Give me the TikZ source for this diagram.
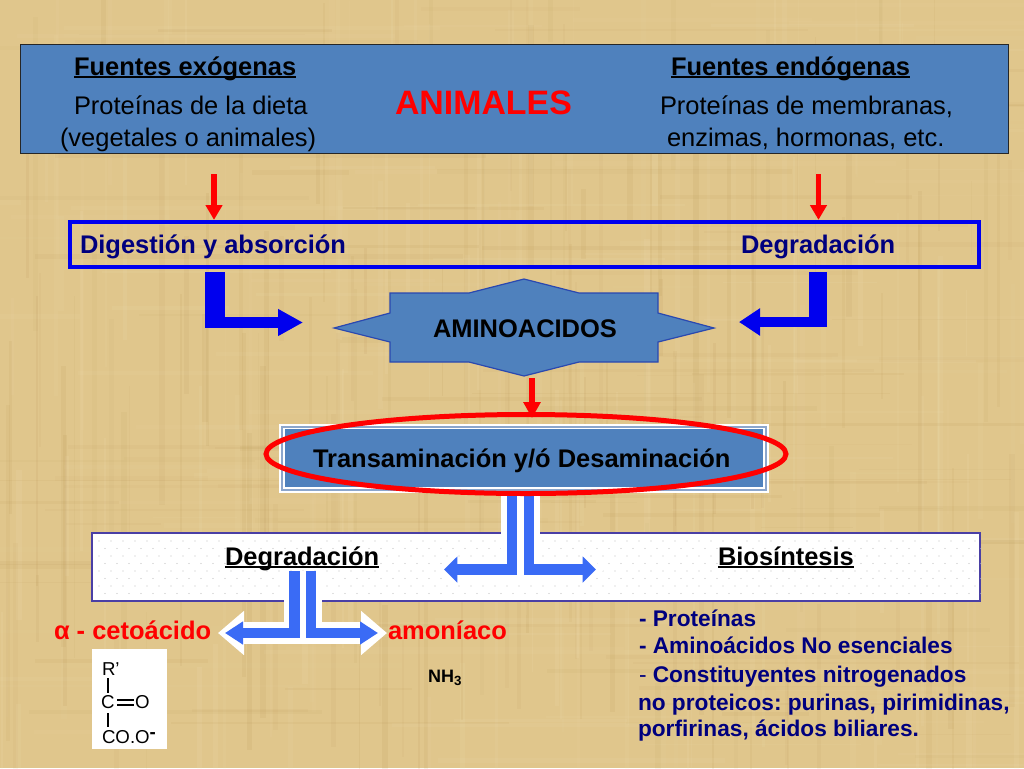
\documentclass[tikz,border=0pt]{standalone}
\usepackage{fontspec}
\setmainfont{Liberation Sans}
\usetikzlibrary{arrows.meta,shapes.geometric}
\definecolor{paper}{HTML}{E0C68C}
\definecolor{paperdark}{HTML}{B08A48}
\definecolor{paperlight}{HTML}{F6E9C4}
\definecolor{steel}{HTML}{4F81BD}
\definecolor{linesteel}{HTML}{8CA6CC}
\definecolor{pureblue}{HTML}{0000EE}
\definecolor{navy}{HTML}{00007E}
\definecolor{tblue}{HTML}{3A6BF5}
\definecolor{boxline}{HTML}{4A3FA5}
\definecolor{starline}{HTML}{2A48B0}
\newcommand{\fsz}[1]{\fontsize{#1pt}{#1pt}\selectfont}
\newcommand{\myul}[1]{\setbox0=\hbox{#1}\rlap{\rule[-2.6pt]{\wd0}{1.5pt}}\box0}
\tikzset{
  txt/.style={anchor=base west,inner sep=0pt,outer sep=0pt,font=\frenchspacing\fsz{19.1}},
  boldtxt/.style={txt,font=\frenchspacing\fsz{19.1}\bfseries},
  listtxt/.style={txt,font=\frenchspacing\fsz{17}\bfseries,text=navy},
  redtxt/.style={boldtxt,text=red},
  chem/.style={txt,font=\fsz{14}},
  redarrow/.style={draw=red,line width=4.2pt,-{Triangle[length=11pt,width=12pt]}},
  bentshaft/.style={draw=pureblue},
  bentarrow/.style={draw=pureblue,line width=8pt},
  tblueline/.style={draw=tblue,line width=8pt,line join=miter},
  twhiteline/.style={draw=white,line width=16.5pt,line join=miter},
}
\begin{document}
\begin{tikzpicture}[x=0.75pt,y=-0.75pt]
\useasboundingbox (0,0) rectangle (1024,768);
% paper background
\begin{scope}
\clip (0,0) rectangle (1024,768);
\fill[paper] (0,0) rectangle (1024,768);
\pgfmathsetseed{11}
\foreach \i in {1,...,260}{
  \pgfmathsetmacro{\xa}{rnd*1024}
  \pgfmathsetmacro{\ya}{rnd*768-60}
  \pgfmathsetmacro{\la}{60+rnd*320}
  \pgfmathsetmacro{\wa}{1+rnd*5}
  \pgfmathsetmacro{\op}{0.04+rnd*0.07}
  \pgfmathtruncatemacro{\pick}{rnd*2}
  \ifnum\pick=0 \def\cc{paperdark}\else \def\cc{paperlight}\fi
  \fill[\cc,opacity=\op] (\xa,\ya) rectangle ({\xa+\wa},{\ya+\la});
}
\foreach \i in {1,...,220}{
  \pgfmathsetmacro{\xa}{rnd*1024-100}
  \pgfmathsetmacro{\ya}{rnd*768}
  \pgfmathsetmacro{\la}{80+rnd*360}
  \pgfmathsetmacro{\wa}{1+rnd*4}
  \pgfmathsetmacro{\op}{0.03+rnd*0.06}
  \pgfmathtruncatemacro{\pick}{rnd*2}
  \ifnum\pick=0 \def\cc{paperdark}\else \def\cc{paperlight}\fi
  \fill[\cc,opacity=\op] (\xa,\ya) rectangle ({\xa+\la},{\ya+\wa});
}
\end{scope}

% top box
\node[draw=black!85,line width=0.7pt,fill=steel,minimum width=741pt,minimum height=81.75pt,inner sep=0pt] (top) at (514,98.5) {};
\node[boldtxt] (fexo) at (74,75) {\myul{Fuentes exógenas}};
\node[txt] (pdieta) at (74,114) {Proteínas de la dieta};
\node[txt] (veg) at (60,146) {(vegetales o animales)};
\node[txt,font=\fsz{25.4}\bfseries,text=red] (anim) at (395,114) {ANIMALES};
\node[boldtxt] (fendo) at (671,75) {\myul{Fuentes endógenas}};
\node[txt] (pmem) at (660,114) {Proteínas de membranas,};
\node[txt] (enz) at (667,146) {enzimas, hormonas, etc.};

% digestion box
\node[draw=pureblue,line width=3.2pt,minimum width=681.75pt,minimum height=33.75pt,inner sep=0pt] (digest) at (524.5,244.5) {};
\node[boldtxt,text=navy] (dig) at (80,253) {Digestión y absorción};
\node[boldtxt,text=navy] (deg) at (741,253) {Degradación};

% red arrows
\coordinate (redL) at (214,174);
\coordinate (redR) at (818.5,174);
\draw[redarrow] (redL) -- (redL |- digest.north);
\draw[redarrow] (redR) -- (redR |- digest.north);

% star
\fill[steel,draw=starline,line width=0.9pt] (334,328) -- (390,313) -- (390,293) -- (469,293) -- (524,279) -- (579,293) -- (658,293) -- (658,313) -- (714,328) -- (658,342) -- (658,362) -- (579,362) -- (524,376) -- (469,362) -- (390,362) -- (390,342) -- cycle;
\node[inner sep=0pt,minimum width=285pt,minimum height=72.75pt] (star) at (524,327.5) {};
\node[boldtxt] (amino) at (433,337) {AMINOACIDOS};

% bent arrows
\coordinate (bentLc) at (215,328);
\coordinate (bentLs) at (205,322.5);
\coordinate (bentLt) at (303,322.5);
\coordinate (bentRc) at (818,327);
\coordinate (bentRs) at (827,322);
\coordinate (bentRt) at (739,322);
\draw[bentshaft,line width=15pt,shorten <=2.4pt] (digest.south -| bentLc) -- (bentLc);
\draw[bentarrow,-{Triangle[length=18.75pt,width=19pt]}] (bentLs) -- (bentLt);
\draw[bentshaft,line width=13.5pt,shorten <=2.4pt] (digest.south -| bentRc) -- (bentRc);
\draw[bentarrow,-{Triangle[length=15.75pt,width=19.5pt]}] (bentRs) -- (bentRt);

% transamination box
\node[fill=white,minimum width=367.5pt,minimum height=51.75pt,inner sep=0pt,outer sep=0pt] (transout) at (524,458.5) {};
\node[draw=linesteel,line width=0.8pt,minimum width=363pt,minimum height=47.25pt,inner sep=0pt] (transline) at (524,458.5) {};
\node[fill=steel,minimum width=358.5pt,minimum height=43.5pt,inner sep=0pt] (trans) at (524,458) {};
\node[boldtxt] (transt) at (313,467) {Transaminación y/ó Desaminación};

% red arrow to transamination
\coordinate (redM) at (532,378);
\coordinate (ellT) at (532,418);
\draw[redarrow,line width=5pt,-{Triangle[length=12pt,width=12.5pt]}] (redM) -- (ellT);

% bottom box
\node[draw=boxline,line width=1pt,fill=white,minimum width=666pt,minimum height=51pt,inner sep=0pt] (bio) at (536,567) {};
\fill[black!24] foreach \r in {0,...,7} { foreach \c in {0,...,73} { ({99+\c*12+mod(\r,2)*6},{541+\r*7.5}) circle (0.4pt) } };
\node[boldtxt] (degb) at (225,565) {\myul{Degradación}};
\node[boldtxt] (biot) at (718,565) {\myul{Biosíntesis}};

% T arrow: transamination to box
\coordinate (t1L) at (512,569.5);
\coordinate (t1Lt) at (436,569.5);
\coordinate (t1Lb) at (444,569.5);
\coordinate (t1R) at (529,569.5);
\coordinate (t1Rt) at (604,569.5);
\coordinate (t1Rb) at (596,569.5);
\draw[twhiteline,-{Triangle[length=16pt,width=28pt]}] (transout.south -| t1L) |- (t1Lt);
\draw[twhiteline,-{Triangle[length=16pt,width=28pt]}] (transout.south -| t1R) |- (t1Rt);
\draw[tblueline,-{Triangle[length=10pt,width=19pt]}] (transout.south -| t1L) |- (t1Lb);
\draw[tblueline,-{Triangle[length=10pt,width=19pt]}] (transout.south -| t1R) |- (t1Rb);

% T arrow: degradation to products
\coordinate (t2Ls) at (294.5,571);
\coordinate (t2L) at (294.5,633);
\coordinate (t2Lt) at (218,633);
\coordinate (t2Lb) at (225,633);
\coordinate (t2Rs) at (311,571);
\coordinate (t2R) at (311,633);
\coordinate (t2Rt) at (387,633);
\coordinate (t2Rb) at (378,633);
\draw[twhiteline,-{Triangle[length=19.5pt,width=32pt]}] (t2Ls) |- (t2Lt);
\draw[twhiteline,-{Triangle[length=19.5pt,width=32pt]}] (t2Rs) |- (t2Rt);
\draw[tblueline,-{Triangle[length=13.5pt,width=16.5pt]}] (t2Ls) |- (t2Lb);
\draw[tblueline,-{Triangle[length=13.5pt,width=16.5pt]}] (t2Rs) |- (t2Rb);

% ellipse over the box
\node[draw=red,line width=3.75pt,ellipse,minimum width=390pt,minimum height=59.25pt,inner sep=0pt] (ell) at (526,454) {};

% products
\node[redtxt] (ceto) at (54,639) {α - cetoácido};
\node[redtxt] (amon) at (388,639) {amoníaco};
\node[txt,font=\fsz{13.5}\bfseries] (nh) at (428,682) {NH\raisebox{-2.5pt}{\fsz{10}3}};

% formula
\node[fill=white,minimum width=56.25pt,minimum height=75pt,inner sep=0pt] (chembox) at (129.5,699) {};
\node[chem] (rp) at (102,675) {R’};
\node[chem] (cc) at (101,708) {C};
\node[chem] (oo) at (135,708) {O};
\node[chem] (coo) at (102,743) {CO.O\raisebox{3.5pt}{\bfseries\fsz{14}-}};
\coordinate (b1a) at (108,678);
\coordinate (b1b) at (108,693);
\coordinate (b2a) at (108,713);
\coordinate (b2b) at (108,727);
\draw[line width=1.3pt] (b1a) -- (b1b);
\draw[line width=1.3pt] (b2a) -- (b2b);
\coordinate (d1a) at (117,700);
\coordinate (d1b) at (134,700);
\coordinate (d2a) at (117,705);
\coordinate (d2b) at (134,705);
\draw[line width=1.3pt] (d1a) -- (d1b);
\draw[line width=1.3pt] (d2a) -- (d2b);

% list
\node[listtxt] (l1) at (639,626) {- Proteínas};
\node[listtxt] (l2) at (639,653) {- Aminoácidos No esenciales};
\node[listtxt] (l3) at (639,682) {{\mdseries -} Constituyentes nitrogenados};
\node[listtxt] (l4) at (638,710) {no proteicos: purinas, pirimidinas,};
\node[listtxt] (l5) at (638,736) {porfirinas, ácidos biliares.};
\end{tikzpicture}
\end{document}
